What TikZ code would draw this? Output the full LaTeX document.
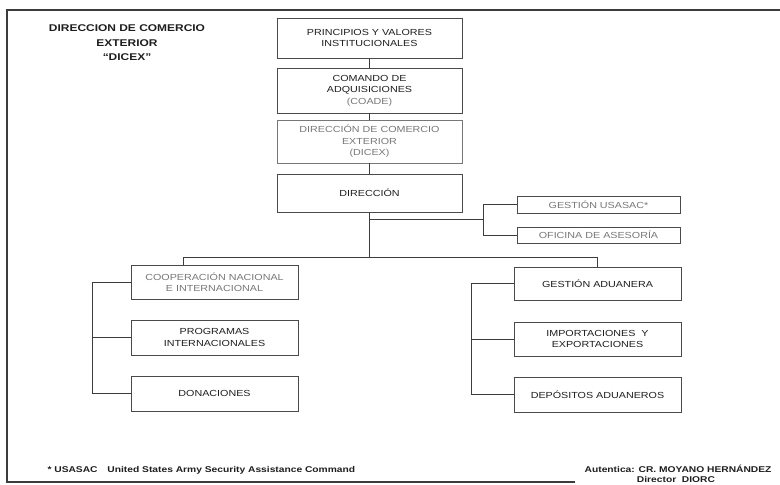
\documentclass[tikz,border=0pt]{standalone}
\usepackage{fontspec}
\setmainfont{Liberation Sans}
\newfontfamily\bxfont[FakeStretch=1.22]{Liberation Sans}
\usetikzlibrary{calc}
\definecolor{linec}{HTML}{3C3C3C}
\definecolor{boxc}{HTML}{4A4A4A}
\definecolor{greyt}{HTML}{777777}
\definecolor{txt}{HTML}{1E1E1E}
\tikzset{
  orgbox/.style={draw=boxc, line width=0.9pt, inner sep=0pt, align=center,
    text=txt, font=\bxfont\fontsize{8.8}{11.5}\selectfont},
  wideb/.style={orgbox, minimum width=185pt},
  midb/.style={orgbox, minimum width=167pt},
  smallb/.style={orgbox, minimum width=163pt},
  faded/.style={text=greyt},
  conn/.style={draw=linec, line width=0.8pt},
  frame/.style={draw=linec, line width=1.5pt},
}
\begin{document}
\begin{tikzpicture}[x=1pt, y=-1pt]
\useasboundingbox (0,0) rectangle (780,485);
% frame
\draw[frame] (575,482) -- (7,482) -- (7,10) -- (780,10);
% title
\node[align=center, text=txt, font=\bxfont\bfseries\fontsize{9.8}{14.5}\selectfont] (title) at (127,43)
  {DIRECCION DE COMERCIO\\EXTERIOR\\“DICEX”};
% central column
\node[wideb, minimum height=40pt] (pv) at (369.5,38) {PRINCIPIOS Y VALORES\\INSTITUCIONALES};
\node[wideb, minimum height=45pt] (coade) at (369.5,90.5) {COMANDO DE\\ADQUISICIONES\\{\color{greyt}(COADE)}};
\node[wideb, minimum height=43pt, draw=greyt, faded] (dicex) at (369.5,141.5) {DIRECCIÓN DE COMERCIO\\EXTERIOR\\(DICEX)};
\node[wideb, minimum height=38pt] (dir) at (369.5,193) {DIRECCIÓN};
% right staff boxes
\node[smallb, minimum height=17pt, faded] (us) at (598.5,204.5) {GESTIÓN USASAC*};
\node[smallb, minimum height=16pt, faded] (of) at (598.5,235) {OFICINA DE ASESORÍA};
% left column
\node[midb, minimum height=34pt, faded] (coop) at (214.5,282) {COOPERACIÓN NACIONAL\\E INTERNACIONAL};
\node[midb, minimum height=35pt] (prog) at (214.5,337.5) {PROGRAMAS\\INTERNACIONALES};
\node[midb, minimum height=35pt] (don) at (214.5,393.5) {DONACIONES};
% right column
\node[midb, minimum height=33pt] (ga) at (597.5,283.5) {GESTIÓN ADUANERA};
\node[midb, minimum height=34pt] (imp) at (597.5,339) {IMPORTACIONES \ Y\\EXPORTACIONES};
\node[midb, minimum height=35pt] (dep) at (597.5,394.5) {DEPÓSITOS ADUANEROS};
% helper coordinates
\coordinate (hl) at (183,257);
\coordinate (hr) at (597.5,257);
\coordinate (br) at (483,219);
\coordinate (lb) at (92,283);
\coordinate (rb) at (471,283);
% connectors
\draw[conn] (pv.south) -- (coade.north);
\draw[conn] (coade.south) -- (dicex.north);
\draw[conn] (dicex.south) -- (dir.north);
\draw[conn] (dir.south) -- (dir.south |- hr);
\draw[conn] (hl) -- (hr);
\draw[conn] (hl) -- (hl |- coop.north);
\draw[conn] (hr) -- (ga.north);
\draw[conn] (dir.south |- br) -- (br);
\draw[conn] (us.west) -| (br |- of.west) -- (of.west);
\draw[conn] (coop.west) -| (lb |- don.west) -- (don.west);
\draw[conn] (prog.west) -- (prog.west -| lb);
\draw[conn] (ga.west) -| (rb |- dep.west) -- (dep.west);
\draw[conn] (imp.west) -- (imp.west -| rb);
% footer
\node[anchor=west, text=txt, font=\bxfont\bfseries\fontsize{8.4}{10}\selectfont] (note) at (44,470)
  {* USASAC\hspace{7pt} United States Army Security Assistance Command};
\node[anchor=east, text=txt, font=\bxfont\bfseries\fontsize{8.4}{10}\selectfont] (auth) at (775,469)
  {Autentica: CR. MOYANO HERNÁNDEZ};
\node[text=txt, font=\bxfont\bfseries\fontsize{8.4}{10}\selectfont] (dirg) at (676,479)
  {Director \ DIORC};
\end{tikzpicture}
\end{document}
